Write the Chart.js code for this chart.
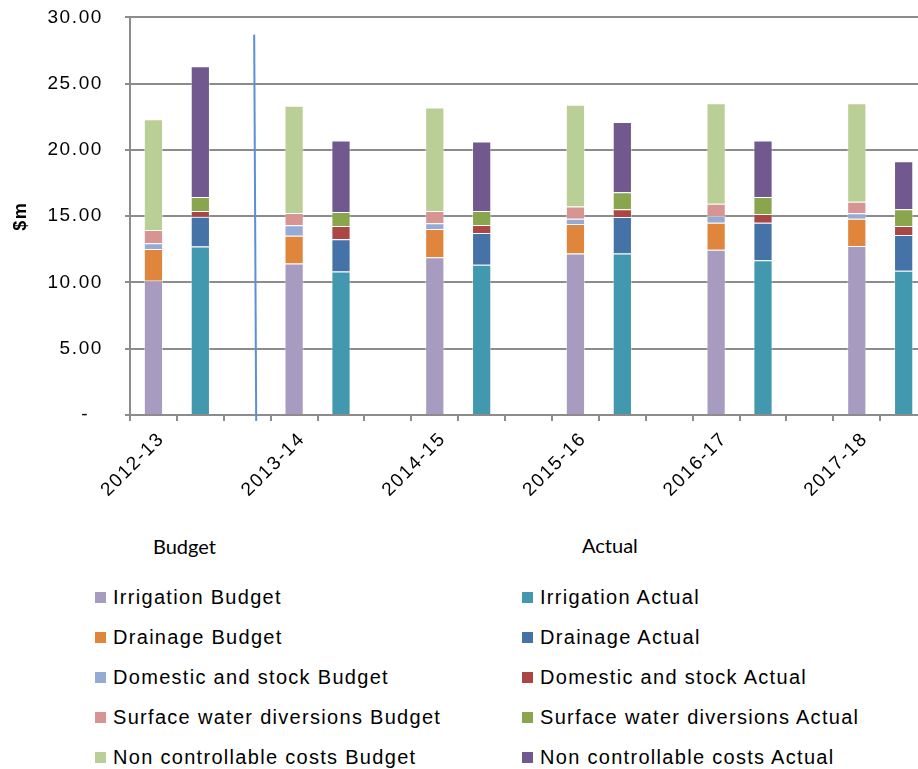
<!DOCTYPE html>
<html>
<head>
<meta charset="utf-8">
<title>Budget vs Actual</title>
<script src="https://cdn.jsdelivr.net/npm/chart.js@4.4.1/dist/chart.umd.min.js"></script>
<style>
  html, body { margin: 0; padding: 0; background: #fff; overflow: hidden; }
  body { width: 918px; height: 769px; position: relative; }
  #wrap { position: absolute; left: 0; top: -16px; width: 976px; height: 536px; }
  .hdr { position: absolute; font-family: Lato, "Open Sans", sans-serif; font-size: 20px; color: #000; line-height: 24px; }
  .item { position: absolute; font-family: "Liberation Sans", Arial, sans-serif; font-size: 20px; letter-spacing: 1.3px; color: #000; line-height: 24px; white-space: nowrap; }
  .item i { display: inline-block; width: 11px; height: 11px; margin-right: 7px; vertical-align: 1px; }
</style>
</head>
<body>
<div id="wrap"><canvas id="costChart"></canvas></div>
<div class="hdr" style="left:153px; top:534px;">Budget</div>
<div class="hdr" style="left:582px; top:533px;">Actual</div>
<div id="legend"></div>
<script>
const years = ['2012-13', '2013-14', '2014-15', '2015-16', '2016-17', '2017-18'];

// $m per year
const irrigationBudget      = [10.13, 11.43, 11.91, 12.18, 12.46, 12.76];
const drainageBudget        = [2.40, 2.10, 2.13, 2.23, 2.05, 2.05];
const domesticBudget        = [0.43, 0.78, 0.42, 0.40, 0.51, 0.41];
const surfaceBudget         = [1.00, 0.93, 0.93, 0.93, 0.92, 0.87];
const nonControllableBudget = [8.35, 8.10, 7.82, 7.67, 7.59, 7.44];

const irrigationActual      = [12.71, 10.83, 11.33, 12.18, 11.68, 10.88];
const drainageActual        = [2.25, 2.43, 2.41, 2.76, 2.83, 2.71];
const domesticActual        = [0.43, 1.00, 0.60, 0.58, 0.66, 0.67];
const surfaceActual         = [1.05, 1.06, 1.05, 1.28, 1.27, 1.26];
const nonControllableActual = [9.88, 5.39, 5.24, 5.31, 4.27, 3.63];

const yTicks = [0, 5, 10, 15, 20, 25, 30];

// divider between 2012-13 and the later years (slot index / $m)
const divider = { x: 2.17, top: 28.7, bottom: -0.45 };

// each year takes three slots: budget, actual, gap
const labels = years.flatMap(y => [y, '', '']);
const inBudget = arr => arr.flatMap(v => [v, null, null]);
const inActual = arr => arr.flatMap(v => [null, v, null]);

const budgetSeries = [
  ['Irrigation Budget', irrigationBudget, '#a79bc0'],
  ['Drainage Budget', drainageBudget, '#df853c'],
  ['Domestic and stock Budget', domesticBudget, '#95abd5'],
  ['Surface water diversions Budget', surfaceBudget, '#d69592'],
  ['Non controllable costs Budget', nonControllableBudget, '#bacf96']
];
const actualSeries = [
  ['Irrigation Actual', irrigationActual, '#4298af'],
  ['Drainage Actual', drainageActual, '#4572a7'],
  ['Domestic and stock Actual', domesticActual, '#aa4643'],
  ['Surface water diversions Actual', surfaceActual, '#89a54e'],
  ['Non controllable costs Actual', nonControllableActual, '#71588f']
];

const makeSet = (s, place) => ({
  label: s[0],
  data: place(s[1]),
  backgroundColor: s[2],
  borderColor: 'rgba(255,255,255,0.45)',
  borderWidth: 1,
  barPercentage: 0.41,
  categoryPercentage: 1
});

const datasets = [
  ...budgetSeries.map(s => makeSet(s, inBudget)),
  ...actualSeries.map(s => makeSet(s, inActual))
];

const spacing = {
  id: 'spacing',
  beforeDraw(chart) { chart.ctx.letterSpacing = '1.6px'; }
};

const dividerLine = {
  id: 'dividerLine',
  afterDraw(chart) {
    const { ctx, scales: { x, y } } = chart;
    ctx.save();
    ctx.strokeStyle = '#5b8fd6';
    ctx.lineWidth = 2;
    ctx.beginPath();
    ctx.moveTo(x.getPixelForValue(divider.x) - 1, y.getPixelForValue(divider.top));
    ctx.lineTo(x.getPixelForValue(divider.x) + 1, y.getPixelForValue(divider.bottom));
    ctx.stroke();
    ctx.restore();
  }
};

const gridGrey = '#8c8c8c';
const tickFont = { family: '"Liberation Sans", Arial, sans-serif', size: 19 };

new Chart(document.getElementById('costChart'), {
  type: 'bar',
  data: { labels, datasets },
  options: {
    responsive: true,
    maintainAspectRatio: false,
    animation: false,
    layout: { padding: { top: 1, left: 10, right: 2, bottom: 0 } },
    plugins: {
      legend: { display: false },
      tooltip: { enabled: false }
    },
    scales: {
      x: {
        stacked: true,
        offset: true,
        grid: { drawOnChartArea: false, offset: true, tickLength: 6, color: gridGrey, lineWidth: 2 },
        border: { color: gridGrey, width: 2 },
        ticks: {
          autoSkip: false,
          maxRotation: 45,
          minRotation: 45,
          labelOffset: 8,
          padding: 7,
          color: '#000',
          font: tickFont
        },
        afterFit(scale) { scale.height = 105; }
      },
      y: {
        stacked: true,
        min: 0,
        max: 30,
        afterBuildTicks(scale) { scale.ticks = yTicks.map(v => ({ value: v })); },
        grid: { color: gridGrey, lineWidth: 2, tickLength: 5 },
        border: { color: gridGrey, width: 2 },
        ticks: {
          color: '#000',
          padding: 22,
          font: tickFont,
          callback: v => v === 0 ? '-  ' : v.toFixed(2)
        },
        title: {
          display: true,
          text: '$m',
          color: '#000',
          padding: { top: 0, bottom: 0 },
          font: { family: '"Liberation Sans", Arial, sans-serif', size: 18, weight: 'bold' }
        },
        afterFit(scale) { scale.width = 120; }
      }
    }
  },
  plugins: [spacing, dividerLine]
});

// two-column legend: budget items on the left, actual items on the right
const legend = document.getElementById('legend');
budgetSeries.forEach((s, i) => {
  [[s, 95], [actualSeries[i], 522]].forEach(([item, left]) => {
    const el = document.createElement('div');
    el.className = 'item';
    el.style.left = left + 'px';
    el.style.top = (585 + i * 40) + 'px';
    el.innerHTML = '<i style="background:' + item[2] + '"></i>' + item[0];
    legend.appendChild(el);
  });
});
</script>
</body>
</html>
